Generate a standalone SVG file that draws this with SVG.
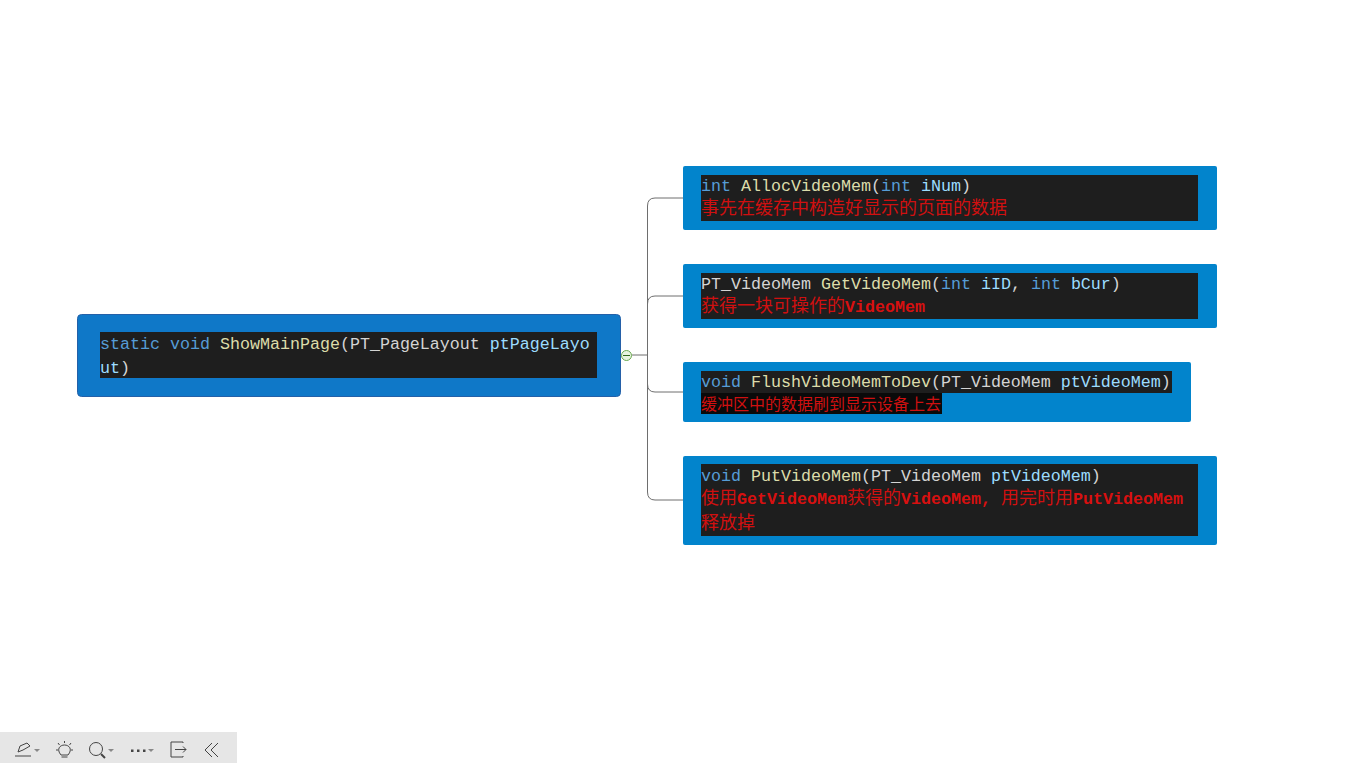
<svg xmlns="http://www.w3.org/2000/svg" width="1365" height="763" viewBox="0 0 1365 763">
  <style>
    text { font-family: "Liberation Mono", "Noto Sans CJK SC", monospace; font-size: 16.67px; fill: #d4d4d4; white-space: pre; }
    .card { fill: #0284cc; }
    .root { fill: #0f78c8; stroke: #2460a8; stroke-width: 1; }
    .code { fill: #1e1e1e; }
    .k { fill: #569cd6; }
    .f { fill: #dcdcaa; }
    .v { fill: #9cdcfe; }
    .t { fill: #d4d4d4; }
    .r { fill: #d81010; font-weight: 700; }
    .c { fill: #d01010; font-family: "Noto Sans CJK SC", sans-serif; font-size: 18px; font-weight: 400; }
    .c16 { font-size: 16px; }
    .link { fill: none; stroke: #6e6e6e; stroke-width: 1; }
    .tool { fill: none; stroke: #444; stroke-width: 1; }
  </style>
  <rect width="1365" height="763" fill="#ffffff"/>

  <g id="connectors">
    <path class="link" d="M632 355H647"/>
    <path class="link" d="M683 198H655Q647.500 198 647.500 206V492Q647.500 500 655 500H683"/>
    <path class="link" d="M683 296H655Q647.500 296 647.500 304"/>
    <path class="link" d="M647.500 384Q647.500 392 655 392H683"/>
  </g>

  <g id="node-root">
    <rect class="root" x="77.500" y="314.500" width="543" height="82" rx="4"/>
    <rect class="code" x="100" y="332" width="497" height="46"/>
    <text x="100" y="349"><tspan class="k">static void </tspan><tspan class="f">ShowMainPage</tspan><tspan class="t">(PT_PageLayout </tspan><tspan class="v">ptPageLayo</tspan></text>
    <text x="100" y="373"><tspan class="v">ut</tspan><tspan class="t">)</tspan></text>
  </g>

  <g id="collapse-toggle">
    <circle cx="626.500" cy="355.500" r="5" fill="#e8f4e0" stroke="#6aa84f" stroke-width="1"/>
    <path d="M623 355.500H630" stroke="#33691e" stroke-width="1"/>
  </g>

  <g id="node-alloc">
    <rect class="card" x="683" y="166" width="534" height="64" rx="2"/>
    <rect class="code" x="701" y="175" width="497" height="46"/>
    <text x="701" y="191"><tspan class="k">int </tspan><tspan class="f">AllocVideoMem</tspan><tspan class="t">(</tspan><tspan class="k">int </tspan><tspan class="v">iNum</tspan><tspan class="t">)</tspan></text>
    <text x="701" y="214"><tspan class="c">事先在缓存中构造好显示的页面的数据</tspan></text>
  </g>

  <g id="node-get">
    <rect class="card" x="683" y="264" width="534" height="64" rx="2"/>
    <rect class="code" x="701" y="273" width="497" height="46"/>
    <text x="701" y="289"><tspan class="t">PT_VideoMem </tspan><tspan class="f">GetVideoMem</tspan><tspan class="t">(</tspan><tspan class="k">int </tspan><tspan class="v">iID</tspan><tspan class="t">, </tspan><tspan class="k">int </tspan><tspan class="v">bCur</tspan><tspan class="t">)</tspan></text>
    <text x="701" y="312"><tspan class="c">获得一块可操作的</tspan><tspan class="r">VideoMem</tspan></text>
  </g>

  <g id="node-flush">
    <rect class="card" x="683" y="362" width="508" height="60" rx="2"/>
    <rect class="code" x="701" y="371" width="471" height="22"/>
    <rect x="701" y="393" width="241" height="21" fill="#0a0a0a"/>
    <text x="701" y="387"><tspan class="k">void </tspan><tspan class="f">FlushVideoMemToDev</tspan><tspan class="t">(PT_VideoMem </tspan><tspan class="v">ptVideoMem</tspan><tspan class="t">)</tspan></text>
    <text x="701" y="410"><tspan class="c c16">缓冲区中的数据刷到显示设备上去</tspan></text>
  </g>

  <g id="node-put">
    <rect class="card" x="683" y="456" width="534" height="89" rx="2"/>
    <rect class="code" x="701" y="464" width="497" height="72"/>
    <text x="701" y="481"><tspan class="k">void </tspan><tspan class="f">PutVideoMem</tspan><tspan class="t">(PT_VideoMem </tspan><tspan class="v">ptVideoMem</tspan><tspan class="t">)</tspan></text>
    <text x="701" y="504"><tspan class="c">使用</tspan><tspan class="r">GetVideoMem</tspan><tspan class="c">获得的</tspan><tspan class="r">VideoMem, </tspan><tspan class="c">用完时用</tspan><tspan class="r">PutVideoMem</tspan></text>
    <text x="701" y="529"><tspan class="c">释放掉</tspan></text>
  </g>

  <g id="toolbar">
    <rect x="0" y="732" width="237" height="31" fill="#e6e6e6"/>
    <path class="tool" d="M15 756H31M18 752L20 746L27 743L30 746L23 750Z"/>
    <path d="M34 749H40L37 752Z" fill="#888"/>
    <path class="tool" d="M61.500 757H67.500M61 755C56 749 60 745 64.500 745C69 745 73 749 68 755ZM64.500 741V743M58 743L59.500 745M71 743L69.500 745M56 750H58M71 750H73"/>
    <circle class="tool" cx="96" cy="749" r="6.500"/>
    <path d="M101 754L105 758" stroke="#444" stroke-width="2"/>
    <path d="M108 749H114L111 752Z" fill="#888"/>
    <path d="M131 749.500h2.500v2.500h-2.500zM137 749.500h2.500v2.500h-2.500zM143 749.500h2.500v2.500h-2.500z" fill="#444"/>
    <path d="M148 749H154L151 752Z" fill="#888"/>
    <path class="tool" d="M183 743V742H171V757H183V756M175 749.500H186M183 746.500L186 749.500L183 752.500"/>
    <path class="tool" d="M212 743L205 750L212 757M218 743L211 750L218 757"/>
  </g>
</svg>
